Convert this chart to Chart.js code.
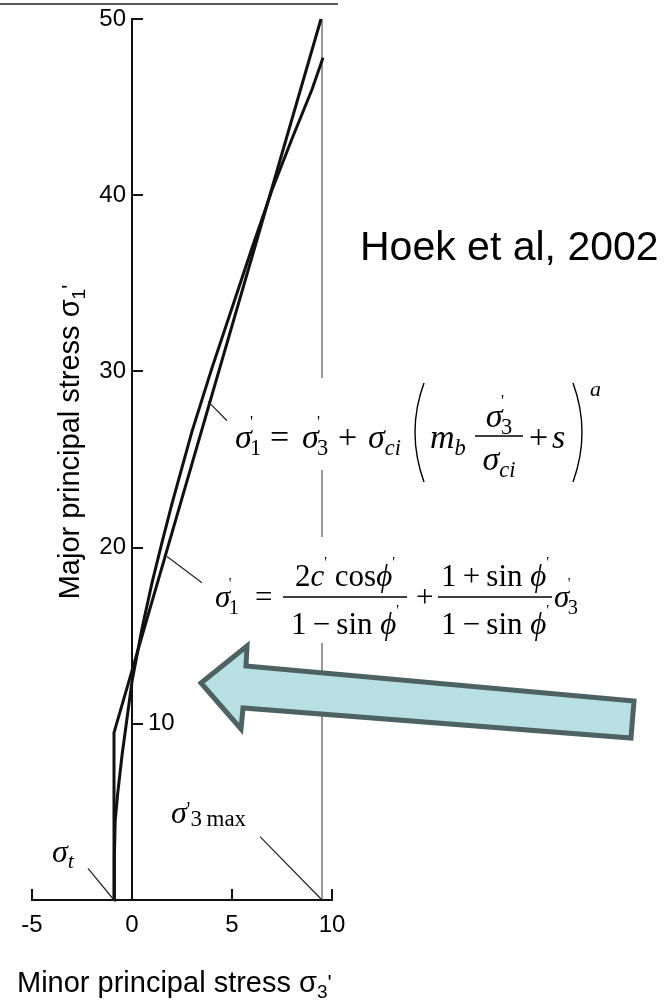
<!DOCTYPE html>
<html>
<head>
<meta charset="utf-8">
<script src="https://cdn.jsdelivr.net/npm/chart.js@4.4.1/dist/chart.umd.min.js"></script>
<style>
  html, body { margin: 0; padding: 0; background: #fff; }
  canvas { display: block; }
</style>
</head>
<body>
<canvas id="chart" width="668" height="1002"></canvas>
<script>
// Hoek-Brown envelope (sigma3', sigma1') and the equivalent Mohr-Coulomb fit
const hbSigma3 = [-0.9, -0.88, -0.84, -0.72, -0.5, -0.25, 0, 0.5, 1, 1.5, 2, 3, 4, 5, 6, 7, 8, 9, 9.55];
const hbSigma1 = [0, 2.5, 4.5, 6.0, 8.2, 10.3, 12.4, 15.4, 18.0, 20.3, 22.5, 26.6, 30.2, 33.6, 37.0, 40.3, 43.2, 46.0, 47.8];
const mcSigma3 = [-0.9, -0.9, 9.45];
const mcSigma1 = [0, 9.5, 50];
const sigma3Max = 9.5;
const sigmaT = -0.9;
const xTicks = [-5, 0, 5, 10];
const yTicks = [10, 20, 30, 40, 50];

const SERIF = '"Liberation Serif", "DejaVu Serif", serif';
const SANS = '"Liberation Sans", Arial, sans-serif';
const it = s => `italic ${s}px ${SERIF}`;
const rm = s => `${s}px ${SERIF}`;
const sans = s => `${s}px ${SANS}`;
const THIN = '\u2009';

const pts = (xs, ys) => xs.map((x, i) => ({ x, y: ys[i] }));

// draw a run of text pieces: {t, f, dy, dx, keep}
function seq(ctx, x, y, parts, draw = true) {
  let cx = x;
  for (const p of parts) {
    ctx.font = p.f;
    cx += p.dx || 0;
    if (draw) ctx.fillText(p.t, cx, y + (p.dy || 0));
    if (!p.keep) cx += ctx.measureText(p.t).width;
  }
  return cx - x;
}
function seqC(ctx, cx, y, parts) {
  const w = seq(ctx, 0, 0, parts, false);
  seq(ctx, cx - w / 2, y, parts);
}
// sigma with prime above and a subscript below
function sig(size, sub, primed = true, subItalic = false) {
  const p = [{ t: 'σ', f: it(size) }];
  if (primed) p.push({ t: '\'', f: rm(size * 0.5), dy: -size * 0.62, dx: -size * 0.05, keep: true });
  p.push({ t: sub, f: subItalic ? it(size * 0.66) : rm(size * 0.66), dy: size * 0.22 });
  return p;
}
const prime = size => ({ t: '\'', f: rm(size * 0.5), dy: -size * 0.62 });

const overlay = {
  id: 'overlay',
  afterDatasetsDraw(chart) {
    const { ctx, scales: { x, y } } = chart;
    const px = v => x.getPixelForValue(v);
    const py = v => y.getPixelForValue(v);
    ctx.save();
    ctx.fillStyle = '#000';
    ctx.textBaseline = 'alphabetic';

    // slide rule along the top
    ctx.strokeStyle = '#595959';
    ctx.lineWidth = 2;
    ctx.beginPath();
    ctx.moveTo(0, 4);
    ctx.lineTo(338, 4);
    ctx.stroke();

    // tick labels
    ctx.font = sans(24);
    ctx.textBaseline = 'middle';
    yTicks.forEach(v => {
      if (v === 10) {
        ctx.textAlign = 'left';
        ctx.fillText(String(v), px(0) + 16, py(v));
      } else {
        ctx.textAlign = 'right';
        ctx.fillText(String(v), px(0) - 6, py(v));
      }
    });
    ctx.textAlign = 'center';
    xTicks.forEach(v => ctx.fillText(String(v), px(v), py(0) + 25));
    ctx.textAlign = 'left';
    ctx.textBaseline = 'alphabetic';

    // leader lines
    ctx.strokeStyle = '#222';
    ctx.lineWidth = 1.2;
    [[-2.2, 1.8, sigmaT, 0], [6.4, 3.6, sigma3Max, 0], [3.8, 28.3, 4.75, 27.2], [1.75, 19.5, 3.5, 18.0]]
      .forEach(([a, b, c, d]) => {
        ctx.beginPath();
        ctx.moveTo(px(a), py(b));
        ctx.lineTo(px(c), py(d));
        ctx.stroke();
      });

    // equation panels
    ctx.fillStyle = '#fff';
    ctx.fillRect(230, 378, 372, 92);
    ctx.fillRect(212, 537, 384, 106);
    ctx.fillStyle = '#000';

    // Hoek-Brown
    const s1 = 34;
    seq(ctx, 235, 448, sig(s1, '1'));
    seq(ctx, 270, 448, [{ t: '=', f: rm(s1) }]);
    seq(ctx, 302, 448, sig(s1, '3'));
    seq(ctx, 338, 448, [{ t: '+', f: rm(s1) }]);
    seq(ctx, 368, 448, sig(s1, 'ci', false, true));
    seq(ctx, 430, 448, [{ t: 'm', f: it(s1) }, { t: 'b', f: it(s1 * 0.66), dy: s1 * 0.22 }]);
    seqC(ctx, 499, 427, sig(s1, '3'));
    seqC(ctx, 499, 470, sig(s1, 'ci', false, true));
    seq(ctx, 529, 448, [{ t: '+', f: rm(s1) }]);
    seq(ctx, 552, 448, [{ t: 's', f: it(s1) }]);
    seq(ctx, 590, 396, [{ t: 'a', f: it(22) }]);
    ctx.strokeStyle = '#000';
    ctx.lineWidth = 1.4;
    ctx.beginPath();
    ctx.moveTo(475, 436);
    ctx.lineTo(523, 436);
    ctx.moveTo(424, 383);
    ctx.quadraticCurveTo(406, 432, 424, 482);
    ctx.moveTo(573, 383);
    ctx.quadraticCurveTo(591, 432, 573, 482);
    ctx.stroke();

    // Mohr-Coulomb
    const s2 = 31;
    seq(ctx, 215, 607, sig(s2, '1'));
    seq(ctx, 255, 607, [{ t: '=', f: rm(s2) }]);
    const denom = [{ t: '1' + THIN + '−' + THIN + 'sin ', f: rm(s2) }, { t: 'ϕ', f: it(s2) }, prime(s2)];
    seqC(ctx, 345, 586, [{ t: '2', f: rm(s2) }, { t: 'c', f: it(s2) }, prime(s2),
      { t: ' cos', f: rm(s2) }, { t: 'ϕ', f: it(s2) }, prime(s2)]);
    seqC(ctx, 345, 634, denom);
    seq(ctx, 416, 607, [{ t: '+', f: rm(s2) }]);
    seqC(ctx, 495, 586, [{ t: '1' + THIN + '+' + THIN + 'sin ', f: rm(s2) }, { t: 'ϕ', f: it(s2) }, prime(s2)]);
    seqC(ctx, 495, 634, denom);
    seq(ctx, 554, 607, sig(s2, '3'));
    ctx.beginPath();
    ctx.moveTo(283, 597);
    ctx.lineTo(407, 597);
    ctx.moveTo(438, 597);
    ctx.lineTo(552, 597);
    ctx.stroke();

    // point labels
    seq(ctx, 52, 862, [{ t: 'σ', f: it(32) }, { t: 't', f: it(22), dy: 6 }]);
    seq(ctx, 171, 823, [{ t: 'σ', f: it(32) }, { t: '\'', f: rm(20), dy: -7 },
      { t: '3', f: rm(23), dy: 3 }, { t: '\u2009max', f: rm(23), dy: 3 }]);

    // reference note
    ctx.font = sans(41);
    ctx.fillText('Hoek et al, 2002', 360, 260);

    // axis titles
    const xt = [{ t: 'Minor principal stress σ', f: sans(29) }, { t: '3', f: sans(19), dy: 6 },
      { t: '\'', f: sans(22), dy: -2 }];
    seq(ctx, 17, 992, xt);
    const yt = [{ t: 'Major principal stress σ', f: sans(29) }, { t: '1', f: sans(19), dy: 6 },
      { t: '\'', f: sans(22), dy: -2 }];
    const yw = seq(ctx, 0, 0, yt, false);
    ctx.save();
    ctx.translate(79, 442 + yw / 2);
    ctx.rotate(-Math.PI / 2);
    seq(ctx, 0, 0, yt);
    ctx.restore();

    // block arrow
    ctx.beginPath();
    ctx.moveTo(201, 683);
    ctx.lineTo(247, 646);
    ctx.lineTo(246, 666);
    ctx.lineTo(634, 701);
    ctx.lineTo(631, 738);
    ctx.lineTo(243, 708);
    ctx.lineTo(241, 729);
    ctx.closePath();
    ctx.fillStyle = '#b8dfe2';
    ctx.fill();
    ctx.strokeStyle = '#4e6264';
    ctx.lineWidth = 5;
    ctx.lineJoin = 'miter';
    ctx.stroke();

    ctx.restore();
  }
};

// ticks point inward from axes that sit on the zero lines
const axisGrid = { drawOnChartArea: false, tickLength: -12, color: '#111', lineWidth: 2 };
const axisBorder = { color: '#111', width: 2 };

new Chart(document.getElementById('chart').getContext('2d'), {
  type: 'scatter',
  data: {
    datasets: [{
      label: 'Hoek-Brown',
      data: pts(hbSigma3, hbSigma1),
      showLine: true,
      borderColor: '#111',
      borderWidth: 3,
      pointRadius: 0,
      clip: false
    }, {
      label: 'Mohr-Coulomb',
      data: pts(mcSigma3, mcSigma1),
      showLine: true,
      borderColor: '#111',
      borderWidth: 3,
      pointRadius: 0,
      clip: false
    }, {
      label: "sigma'3max",
      data: pts([sigma3Max, sigma3Max], [0, 50]),
      showLine: true,
      borderColor: '#333',
      borderWidth: 1,
      pointRadius: 0,
      clip: false
    }]
  },
  options: {
    responsive: false,
    animation: false,
    layout: { padding: { left: 32, right: 336, top: 19, bottom: 102 } },
    plugins: { legend: { display: false }, tooltip: { enabled: false } },
    scales: {
      x: {
        type: 'linear',
        min: -5,
        max: 10,
        position: { y: 0 },
        ticks: { display: false, stepSize: 5 },
        grid: axisGrid,
        border: axisBorder
      },
      y: {
        type: 'linear',
        min: 0,
        max: 50,
        position: { x: 0 },
        ticks: { display: false, stepSize: 10 },
        grid: axisGrid,
        border: axisBorder
      }
    }
  },
  plugins: [overlay]
});
</script>
</body>
</html>
